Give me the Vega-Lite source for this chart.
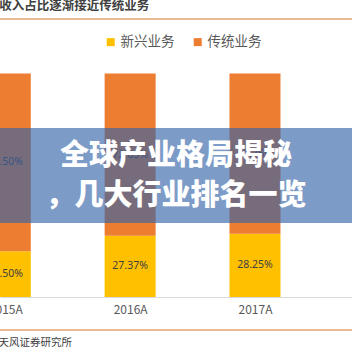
{
  "$schema": "https://vega.github.io/schema/vega-lite/v6.json",
  "width": 352,
  "height": 223.5,
  "autosize": {"type": "none"},
  "padding": {"left": 0, "top": 73.5, "right": 0, "bottom": 55},
  "background": "white",
  "config": {"view": {"stroke": null}, "font": "Noto Sans CJK SC"},
  "datasets": {
    "bars": [
      {"year": 2015, "type": "新兴业务", "share": 0.205},
      {"year": 2015, "type": "传统业务", "share": 0.795},
      {"year": 2016, "type": "新兴业务", "share": 0.2737},
      {"year": 2016, "type": "传统业务", "share": 0.7263},
      {"year": 2017, "type": "新兴业务", "share": 0.2825},
      {"year": 2017, "type": "传统业务", "share": 0.7175}
    ]
  },
  "layer": [
    {
      "data": {"name": "bars"},
      "mark": {"type": "bar", "size": 51},
      "encoding": {
        "x": {
          "field": "year",
          "type": "quantitative",
          "scale": {"domain": [2014.9977, 2017.737], "nice": false, "zero": false},
          "axis": {
            "values": [2015, 2016, 2017],
            "labelExpr": "datum.value + 'A'",
            "ticks": false,
            "grid": false,
            "domainColor": "#D9D9D9",
            "labelFontSize": 12,
            "labelColor": "#595959",
            "labelPadding": 7,
            "labelFlush": false,
            "labelOverlap": false,
            "title": "天风证券研究所",
            "titleFontSize": 10.5,
            "titleFontWeight": "normal",
            "titleColor": "#404040",
            "titleAnchor": "start",
            "titleAlign": "left",
            "titleX": -2,
            "titleY": 45,
            "titleBaseline": "middle"
          }
        },
        "y": {
          "field": "share",
          "type": "quantitative",
          "stack": "zero",
          "scale": {"domain": [0, 1], "nice": false},
          "axis": null
        },
        "order": {"field": "type", "sort": "descending"},
        "color": {
          "field": "type",
          "type": "nominal",
          "scale": {"domain": ["新兴业务", "传统业务"], "range": ["#FFC000", "#ED7D31"]},
          "legend": {
            "title": null,
            "orient": "none",
            "direction": "horizontal",
            "legendX": 104,
            "legendY": -38.5,
            "symbolType": "square",
            "symbolSize": 64,
            "symbolStrokeWidth": 0,
            "labelFontSize": 13.5,
            "labelColor": "#595959",
            "labelOffset": 3,
            "columnPadding": 16
          }
        }
      }
    },
    {
      "data": {"name": "bars"},
      "mark": {"type": "text", "fontSize": 10.5, "color": "#404040", "font": "Noto Sans"},
      "encoding": {
        "x": {"field": "year", "type": "quantitative"},
        "y": {"field": "share", "type": "quantitative", "stack": "zero", "bandPosition": 0.5},
        "detail": {"field": "type"},
        "order": {"field": "type", "sort": "descending"},
        "text": {"field": "share", "format": ".2%"}
      }
    },
    {
      "data": {"values": [{}]},
      "mark": {
        "type": "text",
        "fontSize": 12.5,
        "fontWeight": "bold",
        "color": "#404040",
        "align": "left",
        "baseline": "middle"
      },
      "encoding": {
        "x": {"datum": 2014.952},
        "y": {"datum": 1.302},
        "text": {"value": "收入占比逐渐接近传统业务"}
      }
    },
    {
      "data": {"values": [{}]},
      "mark": {"type": "rule", "color": "#E3A56B", "strokeWidth": 1.5},
      "encoding": {"y": {"datum": 1.244}}
    },
    {
      "data": {"values": [{}]},
      "mark": {"type": "rule", "color": "#E3A56B", "strokeWidth": 1.5},
      "encoding": {"y": {"datum": -0.148}}
    },
    {
      "data": {"values": [{}]},
      "mark": {"type": "rect", "color": "#3463A8", "opacity": 0.64},
      "encoding": {"y": {"datum": 0.756}, "y2": {"datum": 0.331}}
    },
    {
      "data": {"values": [{}]},
      "mark": {
        "type": "text",
        "fontSize": 29,
        "fontWeight": 900,
        "color": "white",
        "lineHeight": 40,
        "baseline": "middle",
        "align": "center"
      },
      "encoding": {
        "y": {"datum": 0.631},
        "text": {"value": ["全球产业格局揭秘", "，几大行业排名一览"]}
      }
    }
  ]
}
